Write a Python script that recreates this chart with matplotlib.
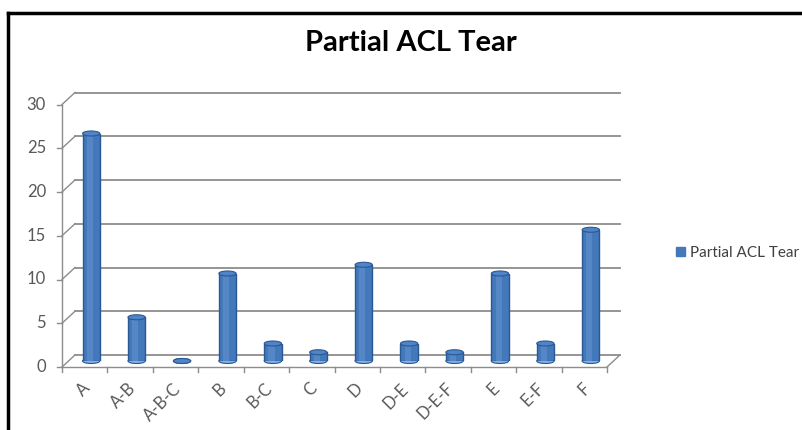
import numpy as np
import matplotlib.pyplot as plt
from matplotlib.lines import Line2D
from matplotlib.patches import Ellipse

categories = ['A', 'A-B', 'A-B-C', 'B', 'B-C', 'C', 'D', 'D-E', 'D-E-F', 'E', 'E-F', 'F']
values = [26, 5, 0, 10, 2, 1, 11, 2, 1, 10, 2, 15]
y_ticks = [0, 5, 10, 15, 20, 25, 30]
series_name = 'Partial ACL Tear'
title = 'Partial ACL Tear'

W, H = 803, 430
plt.rcParams['font.family'] = ['Lato', 'DejaVu Sans']

fig = plt.figure(figsize=(W / 100, H / 100), dpi=100, facecolor='white')

# mid-depth plane (where the cylinders stand), pixel geometry
left_px, right_px = 68.5, 613.5
bot_px, top_px = 361.0, 98.5
ax = fig.add_axes([left_px / W, 1 - bot_px / H,
                   (right_px - left_px) / W, (bot_px - top_px) / H])
n = len(categories)
ax.set_xlim(-0.5, n - 0.5)
ax.set_ylim(0, 30)
ax.axis('off')

# depth offsets (half the depth) in data units
px_x = n / (right_px - left_px)
px_y = 30 / (bot_px - top_px)
DX, DY = 6.5 * px_x, 6.0 * px_y
grid_c = '#8c8c8c'
txt_c = '#595959'
x0, x1 = -0.5, n - 0.5

# back wall gridlines + side wall diagonals
for v in y_ticks:
    ax.plot([x0 + DX, x1 + DX], [v + DY, v + DY], color=grid_c, lw=1.3, clip_on=False, zorder=1)
    ax.plot([x0 - DX, x0 + DX], [v - DY, v + DY], color=grid_c, lw=1.0, clip_on=False, zorder=1)
    # front tick + label
    ax.plot([x0 - DX - 5 * px_x, x0 - DX], [v - DY, v - DY], color=grid_c, lw=1.0, clip_on=False)
    ax.text(x0 - DX - 16 * px_x, v - DY, str(v), ha='right', va='center',
            fontsize=12, color=txt_c)

# front vertical axis
ax.plot([x0 - DX, x0 - DX], [0 - DY, 30 - DY], color=grid_c, lw=1.0, clip_on=False)
# floor
ax.plot([x0 - DX, x1 - DX], [-DY, -DY], color=grid_c, lw=1.0, clip_on=False)
ax.plot([x1 - DX, x1 + DX], [-DY, DY], color=grid_c, lw=1.0, clip_on=False)
# category ticks on front edge
for k in range(n + 1):
    xb = x0 + k - DX
    ax.plot([xb, xb], [-DY, -DY - 5 * px_y], color=grid_c, lw=1.0, clip_on=False)

# cylinders
bw = 0.38
ell_h = 5 * px_y
xs = np.arange(n)
ax.bar(xs, values, width=bw, color='#4378ba', edgecolor='#2a5892', linewidth=1.0, zorder=3)
ax.bar(xs - bw * 0.08, values, width=bw * 0.35, color='#5587c6', linewidth=0, zorder=3)
for xi, v in zip(xs, values):
    ax.add_patch(Ellipse((xi, 0), bw, ell_h, facecolor='#7fb0e8', edgecolor='#2a5892',
                         lw=0.8, zorder=2.9, clip_on=False))
    ax.add_patch(Ellipse((xi, v), bw, ell_h, facecolor='#4f85c8', edgecolor='#2a5892',
                         lw=0.8, zorder=4, clip_on=False))

# category labels
for xi, lab in zip(xs, categories):
    ax.text(xi - DX + 3 * px_x, -DY - 19 * px_y, lab, rotation=45, rotation_mode='anchor',
            ha='right', va='center', fontsize=12, color=txt_c)

# legend
fig.legend([plt.Rectangle((0, 0), 1, 1, color='#4378ba')], [series_name],
           loc='center left', bbox_to_anchor=(662 / W, 1 - 253 / H), frameon=False,
           handlelength=0.6, handleheight=0.6, handletextpad=0.35, fontsize=11,
           labelcolor='#404040')

fig.text(411 / W, 1 - 43 / H, title, ha='center', va='center', fontsize=21,
         fontweight='bold', color='black')

# black frame (top and left)
fig.add_artist(Line2D([8 / W, 1], [1 - 13 / H, 1 - 13 / H], color='black', lw=2.5,
                      transform=fig.transFigure))
fig.add_artist(Line2D([8 / W, 8 / W], [1 - 13 / H, 0], color='black', lw=2.5,
                      transform=fig.transFigure))

fig.savefig('out.png', dpi=100, facecolor='white')
